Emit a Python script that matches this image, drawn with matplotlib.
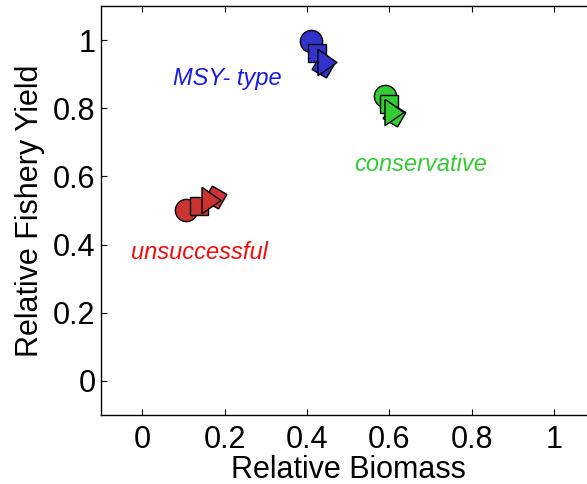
import matplotlib
matplotlib.use("Agg")
import matplotlib.pyplot as plt

plt.rcParams['font.family'] = ['Liberation Sans', 'DejaVu Sans']

# marker positions per management group: circle, square, diamond, triangle
groups = ['unsuccessful', 'MSY- type', 'conservative']
circle_x = [0.106, 0.411, 0.591]
circle_y = [0.502, 0.998, 0.837]
square_x = [0.137, 0.424, 0.599]
square_y = [0.512, 0.961, 0.813]
diamond_x = [0.177, 0.440, 0.611]
diamond_y = [0.540, 0.925, 0.780]
tri_x = [0.166, 0.448, 0.612]
tri_y = [0.530, 0.937, 0.788]

label_x = [0.138, 0.206, 0.676]
label_y = [0.378, 0.888, 0.636]

marker_colors = [(0.8, 0.2, 0.2), (0.2, 0.2, 0.8), (0.2, 0.8, 0.2)]
text_colors = [(0.95, 0.05, 0.05), (0.1, 0.1, 0.9), (0.2, 0.8, 0.2)]

ticks = [0, 0.2, 0.4, 0.6, 0.8, 1]
tick_labels = ['0', '0.2', '0.4', '0.6', '0.8', '1']

# taller-than-wide triangle like matlab's '>'
tri_marker = [(-0.72, 1.0), (-0.72, -1.0), (0.72, 0.0), (-0.72, 1.0)]

fig = plt.figure(figsize=(5.87, 4.84), dpi=100)
ax = fig.add_axes([101 / 587, 1 - 415 / 484, 494 / 587, 409 / 484])

for i in range(len(groups)):
    c = marker_colors[i]
    ax.plot(circle_x[i], circle_y[i], 'o', ms=16, mfc=c, mec='k', mew=1, zorder=3)
    ax.plot(square_x[i], square_y[i], 's', ms=13.5, mfc=c, mec='k', mew=1, zorder=4)
    ax.plot(diamond_x[i], diamond_y[i], marker=(4, 0, 15), ms=17, mfc=c, mec='k', mew=1, zorder=5)
    ax.plot(tri_x[i], tri_y[i], marker=tri_marker, ms=19, mfc=c, mec='k', mew=1, zorder=6)
    ax.text(label_x[i], label_y[i], groups[i], color=text_colors[i], fontsize=17,
            style='italic', ha='center', va='center')

ax.set_xlim(-0.1, 1.1)
ax.set_ylim(-0.1, 1.1)
ax.set_xticks(ticks)
ax.set_xticklabels(tick_labels)
ax.set_yticks(ticks)
ax.set_yticklabels(tick_labels)
ax.tick_params(direction='in', top=True, right=True, length=4, width=0.8,
               labelsize=22)
ax.tick_params(axis='x', pad=7)
ax.tick_params(axis='y', pad=4)
for s in ax.spines.values():
    s.set_linewidth(1)

ax.set_xlabel('Relative Biomass', fontsize=22, labelpad=0)
ax.set_ylabel('Relative Fishery Yield', fontsize=22, labelpad=6)

fig.savefig('out.png', dpi=100)
